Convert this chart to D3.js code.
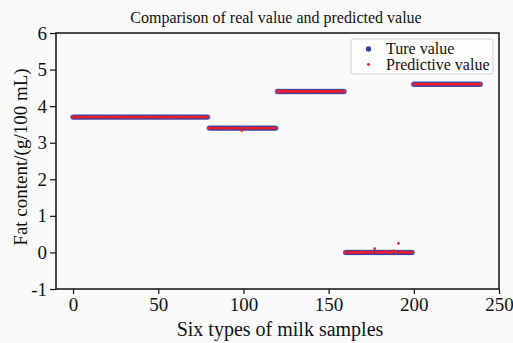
<!DOCTYPE html>
<html><head><meta charset="utf-8">
<script src="https://cdn.jsdelivr.net/npm/d3@7"></script>
<style>
html,body{margin:0;padding:0;background:#fafafa;}
svg{display:block;}
</style></head><body>
<script>
// Segment definitions: [start index, end index (exclusive), true value]
const segStarts = [0, 80, 120, 160, 200];
const segEnds = [80, 120, 160, 200, 240];
const segValues = [3.7, 3.4, 4.4, 0, 4.6];
// Predicted values that differ from the true value: index -> value
const predIdx = [92, 99, 173, 177, 183, 188, 191, 193];
const predVal = [3.38, 3.33, 0.02, 0.1, 0.02, 0.04, 0.25, 0.02];
const xTicks = [0, 50, 100, 150, 200, 250];
const yTicks = [-1, 0, 1, 2, 3, 4, 5, 6];

const FONT = "'Liberation Serif', 'Times New Roman', serif";
const W = 513, H = 343;
const m = {l: 56, r: 14, t: 33, b: 54};
const svg = d3.select("body").append("svg").attr("width", W).attr("height", H);
svg.append("rect").attr("width", W).attr("height", H).attr("fill", "#fafafa");

const x = d3.scaleLinear().domain([-10, 250]).range([m.l, W - m.r]);
const y = d3.scaleLinear().domain([-1, 6]).range([H - m.b, m.t]);

const trueData = [];
segStarts.forEach((s, k) => { for (let i = s; i < segEnds[k]; i++) trueData.push({i, v: segValues[k]}); });
const predData = trueData.map(d => {
  const j = predIdx.indexOf(d.i);
  return {i: d.i, v: j >= 0 ? predVal[j] : d.v};
});

const g = svg.append("g");
g.selectAll("circle.t").data(trueData).enter().append("circle")
  .attr("cx", d => x(d.i)).attr("cy", d => y(d.v)).attr("r", 2.7)
  .attr("fill", "#3b3fa6").attr("opacity", 0.85);
g.selectAll("circle.p").data(predData).enter().append("circle")
  .attr("cx", d => x(d.i)).attr("cy", d => y(d.v)).attr("r", 1.4)
  .attr("fill", "#f01c28");

// axes
const xa = svg.append("g").attr("transform", `translate(0,${H - m.b})`)
  .call(d3.axisBottom(x).tickValues(xTicks).tickSize(5).tickPadding(4).tickFormat(d3.format("d")));
const ya = svg.append("g").attr("transform", `translate(${m.l},0)`)
  .call(d3.axisLeft(y).tickValues(yTicks).tickSize(6).tickPadding(3).tickFormat(d => d < 0 ? "-" + Math.abs(d) : d));
[xa, ya].forEach(a => {
  a.attr("font-family", null).attr("font-size", null);
  a.select(".domain").remove();
  a.selectAll("line").attr("stroke", "#111").attr("stroke-width", 1.2);
  a.selectAll("text").style("font-family", FONT).style("font-size", "19px").style("fill", "#111");
});
svg.append("rect").attr("x", m.l).attr("y", m.t).attr("width", W - m.r - m.l).attr("height", H - m.b - m.t)
  .attr("fill", "none").attr("stroke", "#111").attr("stroke-width", 1.5);

function txt(sel) { return sel.style("font-family", FONT).style("fill", "#111"); }
// titles
txt(svg.append("text")).attr("x", 276).attr("y", 23).attr("text-anchor", "middle")
  .style("font-size", "16px").text("Comparison of real value and predicted value");
txt(svg.append("text")).attr("x", 280).attr("y", 336).attr("text-anchor", "middle")
  .style("font-size", "20px").text("Six types of milk samples");
txt(svg.append("text")).attr("transform", `translate(27,157) rotate(-90)`).attr("text-anchor", "middle")
  .style("font-size", "19px").text("Fat content/(g/100 mL)");

// legend
const lg = svg.append("g");
lg.append("rect").attr("x", 351).attr("y", 39).attr("width", 142).attr("height", 35).attr("rx", 2)
  .attr("fill", "#fdfdfd").attr("stroke", "#d0d0d0");
lg.append("circle").attr("cx", 368.5).attr("cy", 49).attr("r", 2.7).attr("fill", "#3b3fa6");
lg.append("circle").attr("cx", 368.5).attr("cy", 64.5).attr("r", 1.4).attr("fill", "#f01c28");
txt(lg.append("text")).attr("x", 386).attr("y", 54).style("font-size", "16px").text("Ture value");
txt(lg.append("text")).attr("x", 386).attr("y", 69.5).style("font-size", "16px").text("Predictive value");
</script>
</body></html>
